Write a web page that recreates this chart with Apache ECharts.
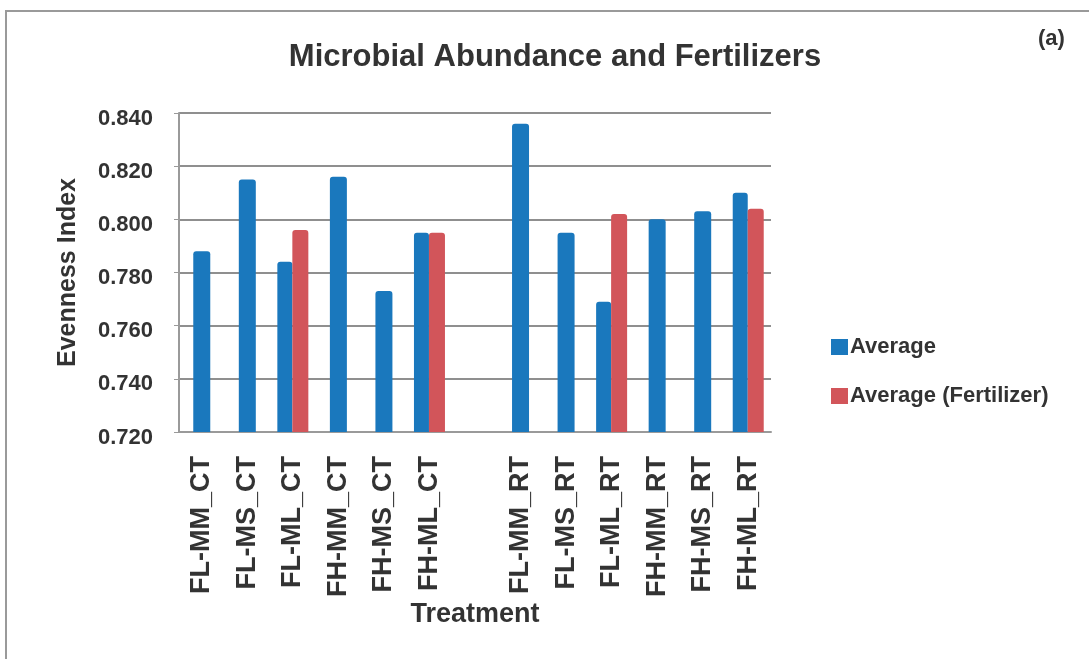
<!DOCTYPE html>
<html>
<head>
<meta charset="utf-8">
<script src="https://cdn.jsdelivr.net/npm/echarts@6/dist/echarts.min.js"></script>
<style>
  html, body { margin: 0; padding: 0; background: #fff; }
  #chart { width: 1089px; height: 659px; }
</style>
</head>
<body>
<div id="chart"></div>
<script>
// treatments, '' is the empty slot between CT and RT
var treatments = ['FL-MM_CT', 'FL-MS_CT', 'FL-ML_CT', 'FH-MM_CT', 'FH-MS_CT', 'FH-ML_CT', '',
	'FL-MM_RT', 'FL-MS_RT', 'FL-ML_RT', 'FH-MM_RT', 'FH-MS_RT', 'FH-ML_RT'];
var average = [0.788, 0.815, 0.784, 0.816, 0.773, 0.795, null,
	0.836, 0.795, 0.769, 0.800, 0.803, 0.810];
var averageFertilizer = [null, null, 0.796, null, null, 0.795, null,
	null, null, 0.802, null, null, 0.804];
var yTicks = { min: 0.72, max: 0.84, step: 0.02 };

var BLUE = '#1a78bd', RED = '#d2555a', TXT = '#333333', FONT = "'Liberation Sans', Arial, sans-serif";

// blue bars that have a red partner sit left of centre, lone blue bars are centred
var avgPaired = [], avgSingle = [];
for (var i = 0; i < treatments.length; i++) {
	if (averageFertilizer[i] != null) { avgPaired.push(average[i]); avgSingle.push(null); }
	else { avgPaired.push(null); avgSingle.push(average[i]); }
}

var myChart = echarts.init(document.getElementById('chart'));
var option = {
	backgroundColor: '#fff',
	animation: false,
	textStyle: { fontFamily: FONT },
	title: {
		text: 'Microbial Abundance and Fertilizers',
		left: 550, top: 37, textAlign: 'center',
		textStyle: { fontSize: 31, fontWeight: 'bold', color: TXT, fontFamily: FONT }
	},
	graphic: [
		{ type: 'line', shape: { x1: 5, y1: 11, x2: 1089, y2: 11 }, style: { stroke: '#9a9a9a', lineWidth: 2 } },
		{ type: 'line', shape: { x1: 6, y1: 10, x2: 6, y2: 659 }, style: { stroke: '#9a9a9a', lineWidth: 2 } },
		{ type: 'text', left: 1038, top: 28, style: { text: '(a)', fontSize: 22, fontWeight: 'bold', fill: TXT, fontFamily: FONT } }
	],
	legend: {
		data: ['Average', 'Average (Fertilizer)'],
		orient: 'vertical',
		left: 826, top: 331,
		icon: 'rect', itemWidth: 17, itemHeight: 16, itemGap: 27,
		textStyle: { fontSize: 22, fontWeight: 'bold', color: TXT, fontFamily: FONT, padding: [0, 0, 0, -3] }
	},
	grid: { left: 179, right: 318, top: 113, bottom: 227 },
	xAxis: [{
		type: 'category',
		data: treatments,
		name: 'Treatment',
		nameLocation: 'middle',
		nameGap: 160,
		nameTextStyle: { fontSize: 27, fontWeight: 'bold', color: TXT },
		axisLine: { lineStyle: { color: '#9a9a9a', width: 2 } },
		axisTick: { show: false },
		axisLabel: { rotate: 90, margin: 24, fontSize: 27, fontWeight: 'bold', color: TXT, interval: 0 }
	}, {
		type: 'category',
		data: treatments,
		show: false
	}],
	yAxis: {
		type: 'value',
		min: yTicks.min, max: yTicks.max, interval: yTicks.step,
		name: 'Evenness Index',
		nameLocation: 'middle',
		nameGap: 98,
		nameTextStyle: { fontSize: 25, fontWeight: 'bold', color: TXT },
		axisLine: { show: true, lineStyle: { color: '#9a9a9a', width: 2 } },
		axisTick: { show: true, length: 5, lineStyle: { color: '#9a9a9a' } },
		axisLabel: {
			margin: 26, color: TXT,
			formatter: function(v) { return '{t|' + v.toFixed(3) + '}'; },
			rich: { t: { fontSize: 22, fontWeight: 'bold', color: TXT, fontFamily: FONT, padding: [11, 0, 0, 0] } }
		},
		splitLine: { lineStyle: { color: '#8f8f8f', width: 2 } }
	},
	series: [{
		name: 'Average', type: 'bar', xAxisIndex: 0,
		data: avgPaired, barWidth: 15, barGap: '0%',
		itemStyle: { color: BLUE, borderRadius: [3, 3, 0, 0] }
	}, {
		name: 'Average (Fertilizer)', type: 'bar', xAxisIndex: 0,
		data: averageFertilizer, barWidth: 16, barGap: '0%',
		itemStyle: { color: RED, borderRadius: [3, 3, 0, 0] }
	}, {
		name: 'Average', type: 'bar', xAxisIndex: 1,
		data: avgSingle, barWidth: 17,
		itemStyle: { color: BLUE, borderRadius: [3, 3, 0, 0] }
	}]
};
myChart.setOption(option);
</script>
</body>
</html>
